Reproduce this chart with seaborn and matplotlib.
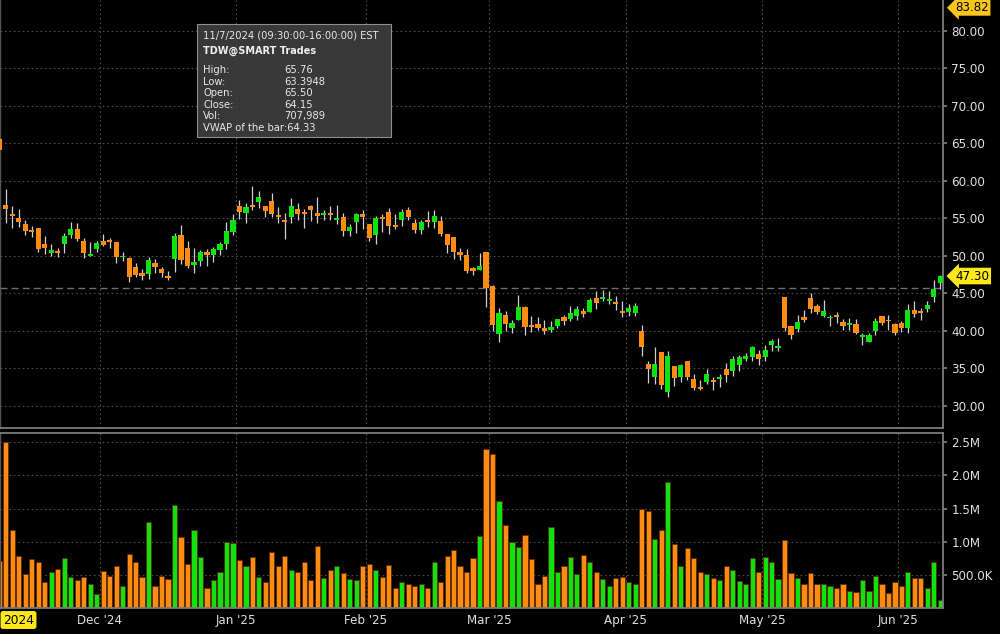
import numpy as np
import pandas as pd
import matplotlib
matplotlib.use("Agg")
import matplotlib.pyplot as plt
import matplotlib.transforms as mtransforms
from matplotlib.patches import Rectangle
import seaborn as sns

# ---------------- data ----------------
holidays = ["2024-11-28", "2024-12-25", "2025-01-01", "2025-01-09", "2025-01-20",
            "2025-02-17", "2025-04-18", "2025-05-26"]
start_date = "2024-11-07"
end_date = "2025-06-10"

opens = [65.50, 56.77, 55.53, 55.08, 54.24, 53.40, 53.66, 51.57, 50.33, 50.68,
         51.62, 52.82, 53.62, 52.02, 50.02, 50.90, 51.93, 52.06, 51.79, 49.80,
         49.75, 48.46, 47.75, 47.62, 49.04, 48.28, 47.26, 49.57, 52.77, 51.04,
         48.73, 49.26, 50.51, 50.06, 50.73, 51.57, 53.17, 56.64, 55.75, 56.81,
         57.13, 56.68, 57.35, 55.48, 54.82, 55.13, 56.24, 55.84, 56.64, 55.70,
         55.39, 55.70, 54.82, 55.22, 53.35, 54.50, 55.53, 54.28, 52.77, 55.22,
         55.80, 54.06, 54.77, 56.10, 54.33, 53.44, 54.77, 54.50, 54.64, 52.95,
         52.46, 50.55, 50.11, 48.33, 48.11, 50.46, 45.98, 39.58, 42.07, 40.33,
         41.44, 43.22, 40.78, 40.91, 40.38, 40.11, 40.64, 41.89, 41.62, 41.97,
         42.64, 42.51, 44.38, 44.24, 43.93, 43.89, 42.69, 42.46, 42.33, 40.02,
         35.58, 33.80, 37.13, 31.85, 35.31, 33.89, 36.02, 33.53, 32.56, 33.22,
         33.40, 33.58, 34.87, 34.69, 35.45, 36.29, 36.56, 36.91, 36.47, 38.16,
         37.71, 44.47, 40.64, 40.20, 41.89, 44.33, 43.35, 42.02, 41.67, 42.07,
         41.22, 40.73, 40.91, 39.22, 38.47, 40.02, 42.02, 41.44, 40.91, 41.00,
         40.42, 42.78, 42.69, 42.91, 44.47, 46.42]

highs = [65.76, 58.86, 56.64, 56.24, 54.77, 53.93, 53.66, 52.64, 51.57, 50.99,
         52.99, 54.50, 54.33, 52.33, 51.79, 52.02, 52.90, 52.37, 51.79, 50.46,
         49.88, 48.99, 48.24, 49.88, 49.62, 48.55, 47.97, 53.08, 54.06, 51.97,
         51.08, 50.77, 50.86, 51.22, 51.88, 54.46, 55.53, 57.44, 56.99, 59.30,
         58.64, 56.68, 58.42, 56.55, 55.66, 57.70, 56.99, 56.24, 56.77, 57.88,
         56.10, 56.64, 56.77, 55.75, 54.24, 55.75, 56.10, 54.28, 55.35, 55.53,
         56.33, 55.53, 56.24, 56.55, 54.86, 54.77, 55.97, 56.10, 55.30, 52.95,
         52.46, 50.99, 50.86, 48.46, 50.33, 50.46, 46.11, 43.09, 42.64, 41.44,
         44.78, 43.35, 42.02, 41.80, 41.40, 41.35, 41.53, 42.11, 43.31, 43.31,
         43.09, 44.42, 45.35, 45.44, 45.35, 44.69, 43.97, 43.53, 43.66, 40.78,
         36.02, 37.80, 37.13, 37.31, 35.31, 35.58, 36.02, 34.20, 33.44, 34.87,
         33.80, 34.24, 35.76, 36.65, 36.78, 37.09, 37.98, 37.45, 38.11, 38.91,
         39.00, 44.47, 40.64, 42.07, 42.78, 45.00, 43.53, 44.11, 42.11, 42.51,
         41.58, 41.67, 41.53, 39.67, 39.75, 41.67, 42.02, 42.11, 41.00, 41.31,
         43.53, 43.98, 43.09, 44.02, 46.78, 47.40]

lows = [63.39, 54.42, 53.66, 53.88, 52.77, 52.55, 50.55, 50.28, 49.97, 49.88,
        50.33, 52.37, 52.02, 49.75, 50.02, 50.46, 51.35, 51.08, 49.08, 49.31,
        46.46, 47.13, 46.77, 46.91, 47.71, 47.22, 46.73, 47.80, 48.86, 48.42,
        47.75, 48.64, 48.64, 49.13, 50.06, 50.90, 52.73, 54.95, 54.33, 56.10,
        56.33, 55.22, 55.13, 54.42, 52.19, 54.42, 54.77, 53.66, 54.68, 54.42,
        54.77, 54.77, 54.24, 52.64, 52.64, 53.08, 53.53, 51.97, 51.53, 53.22,
        52.90, 53.53, 53.97, 54.77, 52.99, 52.90, 53.88, 53.66, 52.64, 50.33,
        49.57, 49.44, 47.66, 47.44, 48.11, 43.22, 40.02, 38.55, 40.02, 39.75,
        41.44, 39.44, 39.89, 40.11, 39.58, 39.89, 40.33, 40.78, 41.35, 41.44,
        41.80, 42.51, 42.91, 44.02, 43.53, 42.78, 41.80, 42.02, 42.02, 36.65,
        33.09, 32.91, 32.25, 31.14, 32.69, 33.22, 33.44, 32.11, 32.11, 32.87,
        32.11, 32.56, 33.22, 33.98, 34.69, 36.02, 36.02, 35.45, 36.02, 37.36,
        37.36, 40.02, 38.91, 39.89, 41.22, 42.33, 42.24, 41.80, 40.64, 41.09,
        40.11, 40.11, 39.58, 38.11, 38.47, 39.44, 40.78, 40.11, 39.44, 39.89,
        39.75, 41.80, 41.44, 42.46, 43.80, 45.53]

closes = [64.15, 56.24, 55.30, 54.50, 53.26, 53.13, 50.90, 51.08, 50.77, 50.33,
          52.59, 53.62, 52.19, 50.33, 50.28, 51.75, 51.48, 51.84, 49.88, 50.02,
          47.17, 47.44, 47.26, 49.48, 48.46, 47.66, 46.99, 52.59, 49.48, 48.64,
          49.17, 50.46, 50.11, 50.90, 51.57, 53.31, 54.77, 55.80, 56.50, 56.55,
          57.79, 55.97, 55.53, 55.22, 54.50, 56.64, 55.57, 55.57, 56.10, 55.30,
          55.70, 55.39, 55.08, 53.35, 53.84, 55.53, 55.22, 52.37, 55.08, 54.95,
          53.97, 53.80, 55.88, 55.13, 53.44, 54.50, 54.50, 55.35, 52.90, 51.44,
          50.55, 50.11, 48.02, 48.02, 48.68, 45.66, 40.78, 42.33, 40.91, 41.00,
          43.22, 40.46, 40.46, 40.33, 40.02, 40.46, 41.53, 41.35, 42.33, 42.91,
          42.24, 44.11, 43.66, 44.55, 44.24, 43.53, 42.42, 43.09, 43.35, 37.89,
          34.87, 35.58, 32.78, 36.69, 33.76, 35.40, 33.80, 32.42, 32.29, 34.24,
          33.18, 33.85, 34.11, 36.20, 36.56, 36.69, 37.80, 36.29, 37.45, 38.60,
          37.98, 40.38, 39.44, 41.22, 41.44, 42.91, 42.46, 42.64, 41.89, 41.80,
          40.64, 41.00, 39.75, 39.44, 39.44, 41.35, 41.00, 41.27, 39.75, 40.42,
          42.78, 42.24, 42.42, 43.44, 45.53, 47.30]

volumes_m = [0.71, 2.50, 1.18, 0.79, 0.51, 0.74, 0.69, 0.39, 0.54, 0.59,
             0.75, 0.47, 0.42, 0.47, 0.37, 0.21, 0.56, 0.49, 0.63, 0.33,
             0.82, 0.70, 0.47, 1.30, 0.33, 0.49, 0.44, 1.55, 1.07, 0.66,
             1.18, 0.77, 0.31, 0.42, 0.54, 1.00, 0.98, 0.72, 0.64, 0.77,
             0.47, 0.39, 0.85, 0.64, 0.79, 0.58, 0.54, 0.69, 0.42, 0.93,
             0.46, 0.58, 0.63, 0.53, 0.44, 0.42, 0.63, 0.67, 0.58, 0.47,
             0.65, 0.31, 0.39, 0.36, 0.33, 0.37, 0.31, 0.69, 0.39, 0.79,
             0.87, 0.64, 0.54, 0.75, 1.09, 2.40, 2.32, 1.61, 1.26, 1.00,
             0.92, 1.11, 0.74, 0.36, 0.49, 1.23, 0.54, 0.63, 0.77, 0.52,
             0.80, 0.69, 0.54, 0.44, 0.33, 0.46, 0.47, 0.39, 0.36, 1.50,
             1.46, 1.05, 1.18, 1.90, 0.97, 0.63, 0.90, 0.75, 0.54, 0.51,
             0.46, 0.42, 0.63, 0.58, 0.41, 0.36, 0.75, 0.54, 0.77, 0.69,
             0.44, 1.03, 0.53, 0.46, 0.37, 0.53, 0.37, 0.37, 0.34, 0.31,
             0.37, 0.26, 0.25, 0.42, 0.26, 0.49, 0.36, 0.23, 0.39, 0.33,
             0.55, 0.46, 0.46, 0.31, 0.70, 0.13]

price_ticks = [30, 35, 40, 45, 50, 55, 60, 65, 70, 75, 80]
volume_ticks_m = [0.5, 1.0, 1.5, 2.0, 2.5]
volume_tick_labels = ["500.0K", "1.0M", "1.5M", "2.0M", "2.5M"]
prev_close_line = 45.67
last_price = 47.30
max_price_label = 83.82

tooltip_lines = [("High:", "65.76"), ("Low:", "63.3948"), ("Open:", "65.50"),
                 ("Close:", "64.15"), ("Vol:", "707,989")]
tooltip_title = "11/7/2024 (09:30:00-16:00:00) EST"
tooltip_sub = "TDW@SMART Trades"
tooltip_vwap = "VWAP of the bar:64.33"

# ---------------- frame ----------------
dates = pd.bdate_range(start_date, end_date, freq="C", holidays=holidays)
df = pd.DataFrame({"date": dates, "open": opens, "high": highs, "low": lows,
                   "close": closes, "vol": volumes_m})
df["idx"] = np.arange(len(df))
df["dir"] = np.where(df["close"] > df["open"], "up", "down")

GREEN = "#0fe30f"
ORANGE = "#ff8c10"
palette = {"up": GREEN, "down": ORANGE}
GRID = "#4d4d4d"
SPINE = "#7c7c7c"
TXT = "#e0e0e0"

sns.set_theme(style="dark")
plt.rcParams.update({
    "figure.facecolor": "black", "axes.facecolor": "black",
    "savefig.facecolor": "black", "text.color": TXT,
    "xtick.color": TXT, "ytick.color": TXT, "axes.edgecolor": SPINE,
})
plt.rcParams["font.family"] = ["DejaVu Sans"]

fig = plt.figure(figsize=(10, 6.34), dpi=100)
axp = fig.add_axes([0.0, 0.325, 0.943, 0.675])
axv = fig.add_axes([0.0, 0.0407, 0.943, 0.2763], sharex=axp)

# month boundaries
month_first = df.groupby(df["date"].dt.to_period("M"))["idx"].min()
month_first = month_first[month_first > 0]
tick_pos = (month_first.values - 0.5)
tick_lab = [d.strftime("%b '%y") for d in df.loc[month_first.values, "date"]]

# ---------------- volume (seaborn) ----------------
sns.barplot(data=df, x="idx", y="vol", hue="dir", palette=palette,
            native_scale=True, dodge=False, width=0.8, errorbar=None,
            saturation=1, legend=False, linewidth=0.6, edgecolor="#5a2a00",
            ax=axv)

# ---------------- candles ----------------
body_w = 0.8
axp.vlines(df["idx"], df["low"], df["high"], color="#d0d0d0", lw=0.9, zorder=2)
body_bottom = np.minimum(df["open"], df["close"])
body_h = np.maximum((df["open"] - df["close"]).abs(), 0.13)
axp.bar(df["idx"], body_h, bottom=body_bottom, width=body_w,
        color=[palette[d] for d in df["dir"]], edgecolor="none", zorder=3)

xl = (0.108, 145.41)
axp.set_xlim(*xl)
axp.set_ylim(27.05, 84.09)
axv.set_ylim(0, 2.64)

for ax in (axp, axv):
    ax.set_facecolor("black")
    ax.set_xticks(tick_pos)
    ax.grid(True, color=GRID, linestyle=(0, (1.5, 2.5)), lw=0.8)
    ax.set_axisbelow(True)
    ax.yaxis.tick_right()
    ax.tick_params(axis="y", which="both", direction="out", length=3,
                   color=SPINE, labelsize=8.6, labelcolor=TXT, pad=3)
    ax.set_xlabel("")
    ax.set_ylabel("")
    for s in ("top", "left", "bottom", "right"):
        ax.spines[s].set_visible(False)
    ax.spines["right"].set_visible(True)
    ax.spines["right"].set_color(SPINE)
    ax.spines["right"].set_linewidth(1.3)
    ax.spines["left"].set_visible(True)
    ax.spines["left"].set_color("#555555")
    ax.spines["left"].set_linewidth(1.0)

axp.set_yticks(price_ticks)
axp.set_yticklabels([f"{t:.2f}" for t in price_ticks])
axp.spines["bottom"].set_visible(True)
axp.spines["bottom"].set_color(SPINE)
axp.spines["bottom"].set_linewidth(1.3)
axp.tick_params(axis="x", length=0, labelbottom=False)

axv.set_yticks(volume_ticks_m)
axv.set_yticklabels(volume_tick_labels)
for s in ("top", "bottom"):
    axv.spines[s].set_visible(True)
    axv.spines[s].set_color(SPINE)
    axv.spines[s].set_linewidth(1.3)
axv.set_xticklabels(tick_lab)
axv.tick_params(axis="x", length=0, labelsize=8.6, labelcolor=TXT, pad=4)
axv.set_xlim(*xl)

# reference dashed line
axp.axhline(prev_close_line, color="#6e6e6e", lw=1.0, ls=(0, (5, 3)), zorder=1)

# price labels on the right axis
trans = mtransforms.blended_transform_factory(axp.transAxes, axp.transData)
axp.text(1.013, last_price, f"{last_price:.2f}", transform=trans, ha="left",
         va="center", fontsize=8.6, color="black", clip_on=False, zorder=10,
         bbox=dict(boxstyle="larrow,pad=0.15", fc="#ffe81a", ec="none"))
axp.text(1.013, 0.997, f"{max_price_label:.2f}",
         transform=axp.transAxes, ha="left", va="top", fontsize=8.6,
         color="black", clip_on=False, zorder=10,
         bbox=dict(boxstyle="larrow,pad=0.12", fc="#f7c51c", ec="none"))

# year label bottom-left
fig.text(0.003, 1 - 620 / 634, "2024", ha="left", va="center", fontsize=8.8,
         color="black", bbox=dict(boxstyle="round,pad=0.2", fc="#ffe81a", ec="none"))

# tooltip
def fx(x):
    return x / 1000.0

def fy(y):
    return 1 - y / 634.0

fig.patches.append(Rectangle((fx(197), fy(137)), fx(391) - fx(197), fy(24) - fy(137),
                             transform=fig.transFigure, fc="#3d3d3d", ec="#9a9a9a",
                             lw=0.8, alpha=0.92, zorder=20))
fig.text(fx(203), fy(35), tooltip_title, fontsize=7.2, color="#e8e8e8",
         va="center", ha="left", zorder=21)
fig.text(fx(203), fy(51), tooltip_sub, fontsize=7.0, color="#f0f0f0",
         fontweight="bold", va="center", ha="left", zorder=21)
for k, (lab, val) in enumerate(tooltip_lines):
    yy = 70 + k * 11.6
    fig.text(fx(203), fy(yy), lab, fontsize=7.2, color="#e8e8e8",
             va="center", ha="left", zorder=21)
    fig.text(fx(284), fy(yy), val, fontsize=7.2, color="#e8e8e8",
             va="center", ha="left", zorder=21)
fig.text(fx(203), fy(128), tooltip_vwap, fontsize=7.2, color="#e8e8e8",
         va="center", ha="left", zorder=21)

fig.savefig("out.png", dpi=100, facecolor="black")
